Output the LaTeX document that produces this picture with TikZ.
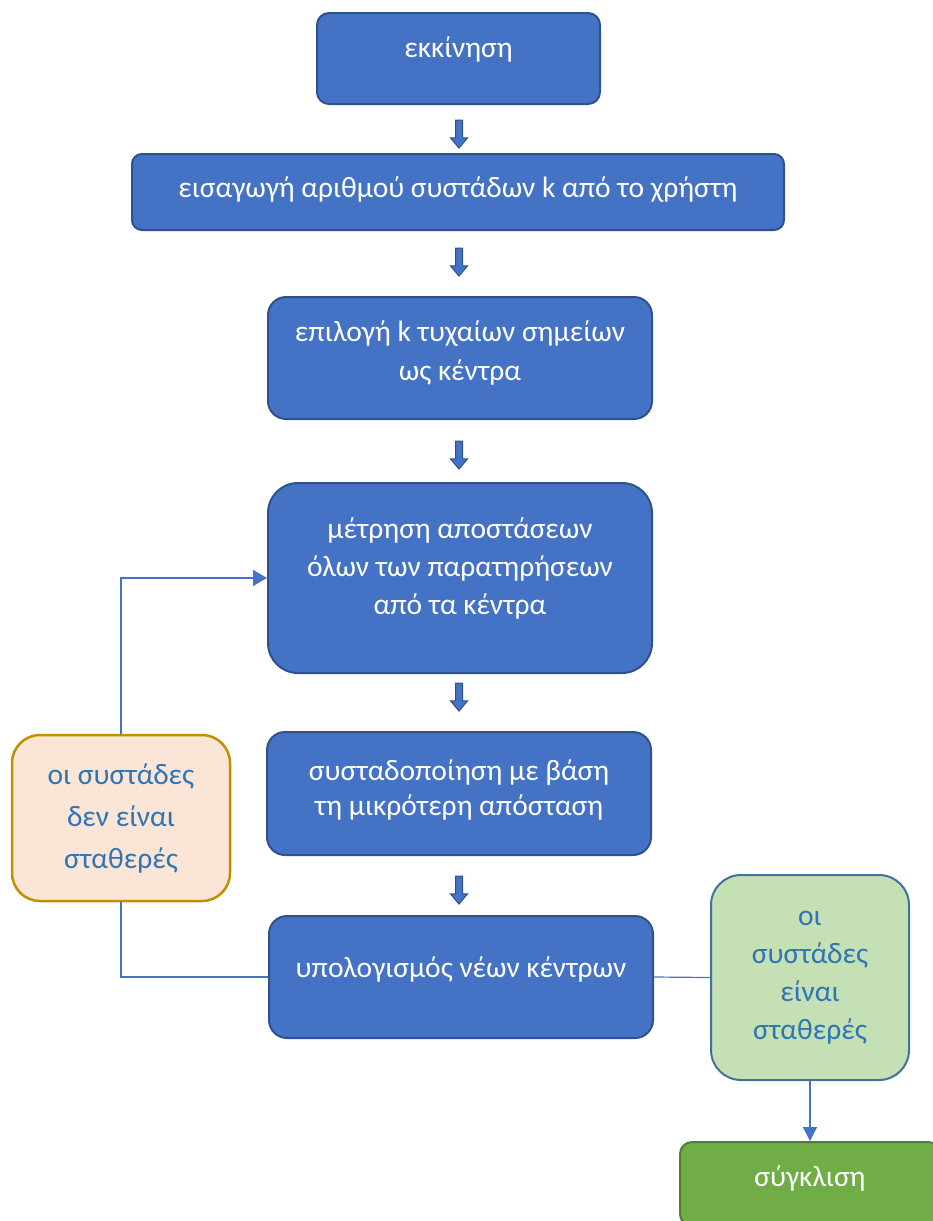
\documentclass[tikz,border=0pt]{standalone}
\usepackage{fontspec}
\setmainfont{Carlito}
\usetikzlibrary{shapes.arrows,arrows.meta,calc}
\definecolor{bfill}{HTML}{4472C4}
\definecolor{bdraw}{HTML}{2F528F}
\definecolor{ofill}{HTML}{FBE5D6}
\definecolor{odraw}{HTML}{BF9000}
\definecolor{gfill}{HTML}{C5E0B4}
\definecolor{gdraw}{HTML}{41719C}
\definecolor{cfill}{HTML}{70AD47}
\definecolor{cdraw}{HTML}{507E32}
\definecolor{ltext}{HTML}{2E75B6}
\definecolor{conn}{HTML}{4472C4}
\begin{document}
\begin{tikzpicture}[x=1pt,y=-1pt,
  box/.style={draw=bdraw, fill=bfill, line width=2pt, inner sep=0pt},
  wtext/.style={text=white, align=center, inner sep=0pt, font=\fontsize{29.5}{38.5}\selectfont},
  orangebox/.style={draw=odraw, fill=ofill, line width=2.5pt, text=ltext, align=center,
    inner sep=0pt, rounded corners=28pt, font=\fontsize{29.5}{42}\selectfont},
  greenbox/.style={draw=gdraw, fill=gfill, line width=2pt, text=ltext, align=center,
    inner sep=0pt, rounded corners=30pt, font=\fontsize{29.5}{38}\selectfont},
  endbox/.style={draw=cdraw, fill=cfill, line width=2pt, inner sep=0pt, rounded corners=12pt},
  blockarrow/.style={single arrow, draw=bdraw, fill=bfill, line width=1pt,
    shape border rotate=270, inner sep=3pt, single arrow head extend=5pt,
    minimum height=28pt, single arrow tip angle=80},
  conline/.style={draw=conn, line width=1.2pt},
]
\useasboundingbox (0,0) rectangle (933,1221);

\node[box, rounded corners=12pt, minimum width=283pt, minimum height=91pt,
  label={[wtext, yshift=9pt]center:εκκίνηση}] (start) at (458.5,58.5) {};
\node[box, rounded corners=10pt, minimum width=652pt, minimum height=76pt,
  label={[wtext, yshift=2pt]center:εισαγωγή αριθμού συστάδων k από το χρήστη}] (input) at (458,192) {};
\node[box, rounded corners=18pt, minimum width=384pt, minimum height=122pt,
  label={[wtext, yshift=5pt]center:επιλογή k τυχαίων σημείων\\ως κέντρα}] (select) at (460,358) {};
\node[box, rounded corners=30pt, minimum width=384pt, minimum height=190pt,
  label={[wtext, yshift=10pt, font=\fontsize{29.5}{38}\selectfont]center:μέτρηση αποστάσεων\\όλων των παρατηρήσεων\\από τα κέντρα}] (measure) at (460,578) {};
\node[box, rounded corners=18pt, minimum width=384pt, minimum height=123pt,
  label={[wtext, yshift=4pt, font=\fontsize{29.5}{35}\selectfont]center:συσταδοποίηση με βάση\\τη μικρότερη απόσταση}] (cluster) at (459,793.5) {};
\node[box, rounded corners=18pt, minimum width=384pt, minimum height=122pt,
  label={[wtext, yshift=8pt]center:υπολογισμός νέων κέντρων}] (update) at (461,977) {};
\node[orangebox, minimum width=218pt, minimum height=166pt] (notstable) at (121,818) {οι συστάδες\\δεν είναι\\σταθερές};
\node[greenbox, minimum width=198pt, minimum height=205pt] (stable) at (810,977.5) {οι\\συστάδες\\είναι\\σταθερές};
\node[endbox, minimum width=260pt, minimum height=84pt,
  label={[wtext, yshift=6pt]center:σύγκλιση}] (conv) at (810,1184) {};

\node[blockarrow] at (459,132) {};
\node[blockarrow] at (459,260) {};
\node[blockarrow] at (459,453) {};
\node[blockarrow] at (459,695) {};
\node[blockarrow] at (459,888) {};

\draw[conline, -{Triangle[length=14pt,width=16pt]}] (notstable.north) -- (notstable.north |- measure.west) -- (measure.west);
\draw[conline] (update.west) -- (update.west -| notstable.south) -- (notstable.south);
\draw[conline] (update.east) -- (stable.west);
\draw[conline, -{Triangle[length=14pt,width=14pt]}] (stable.south) -- (stable.south |- conv.north);
\end{tikzpicture}
\end{document}
